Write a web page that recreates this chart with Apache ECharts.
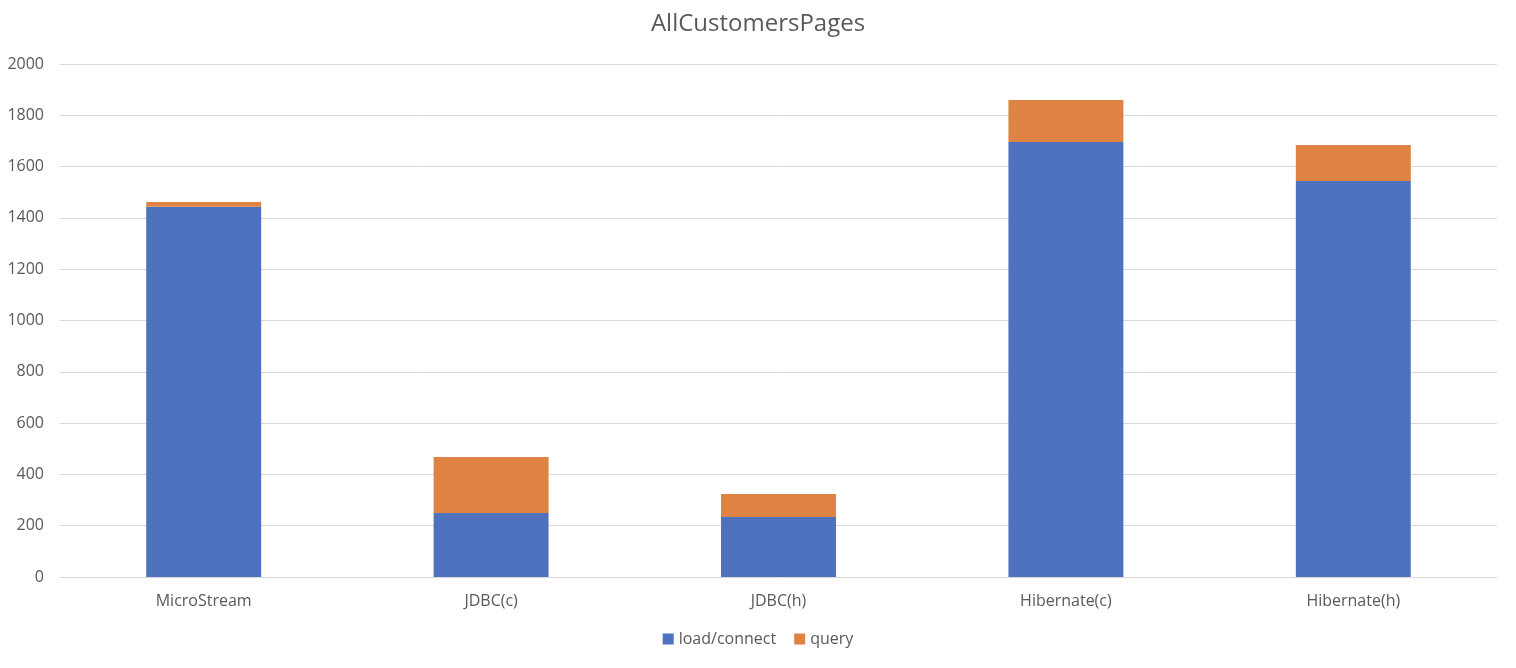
<!DOCTYPE html>
<html>
<head>
<meta charset="utf-8">
<script src="https://cdn.jsdelivr.net/npm/echarts@6/dist/echarts.min.js"></script>
<style>
  html, body { margin: 0; padding: 0; background: #fff; }
  #chart { width: 1516px; height: 668px; }
</style>
</head>
<body>
<div id="chart"></div>
<script>
// categories and stacked values
const categories = ['MicroStream', 'JDBC(c)', 'JDBC(h)', 'Hibernate(c)', 'Hibernate(h)'];
const loadConnect = [1443, 250, 234, 1696, 1544];
const query = [19, 218, 90, 164, 140];

const textColor = '#595959';
const gridColor = '#d9d9d9';
const font = '"Open Sans", "Noto Sans", sans-serif';

var myChart = echarts.init(document.getElementById('chart'));

const option = {
  animation: false,
  title: {
    text: 'AllCustomersPages',
    left: 'center',
    top: 7,
    textStyle: {
      color: textColor,
      fontSize: 24,
      fontWeight: 'normal',
      fontFamily: font
    }
  },
  legend: {
    bottom: 16,
    left: 'center',
    itemWidth: 11,
    itemHeight: 11,
    itemGap: 18,
    icon: 'rect',
    textStyle: { color: textColor, fontSize: 16, fontFamily: font }
  },
  grid: {
    left: 60,
    right: 19,
    top: 64,
    bottom: 91
  },
  xAxis: {
    type: 'category',
    data: categories,
    axisLine: { lineStyle: { color: gridColor } },
    axisTick: { show: false },
    axisLabel: { color: textColor, fontSize: 16, fontFamily: font, margin: 16 }
  },
  yAxis: {
    type: 'value',
    min: 0,
    max: 2000,
    interval: 200,
    axisLine: { show: false },
    axisTick: { show: false },
    splitLine: { lineStyle: { color: gridColor, width: 1 } },
    axisLabel: {
      color: textColor,
      fontSize: 16,
      fontFamily: font,
      margin: 16,
      formatter: function (v) { return String(v); }
    }
  },
  series: [
    {
      name: 'load/connect',
      type: 'bar',
      stack: 'total',
      barWidth: '40%',
      itemStyle: { color: '#4e72be' },
      data: loadConnect
    },
    {
      name: 'query',
      type: 'bar',
      stack: 'total',
      barWidth: '40%',
      itemStyle: { color: '#de8344' },
      data: query
    }
  ]
};

option && myChart.setOption(option);
</script>
</body>
</html>
